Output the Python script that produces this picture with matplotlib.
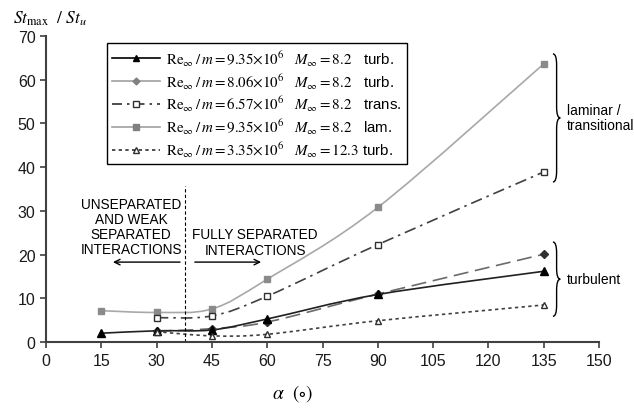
import numpy as np
import matplotlib
matplotlib.use("Agg")
import matplotlib.pyplot as plt
from matplotlib.path import Path
from matplotlib.patches import PathPatch
from matplotlib.lines import Line2D

plt.rcParams["font.family"] = ["Liberation Sans", "DejaVu Sans"]
plt.rcParams["mathtext.fontset"] = "stix"

# ── Data ──────────────────────────────────────────────────────────────────────

alpha_turb = [15, 30, 45, 60, 90, 135]
st_turb    = [2.05, 2.6, 2.8, 5.3, 10.9, 16.2]      # Re/m=9.35e6, M=8.2, turb.

alpha_turb2 = [30, 45, 60, 90, 135]
st_turb2    = [2.5, 3.1, 4.6, 11.0, 20.1]           # Re/m=8.06e6, M=8.2, turb.

alpha_trans = [30, 45, 60, 90, 135]
st_trans    = [5.6, 6.0, 10.5, 22.3, 38.9]          # Re/m=6.57e6, M=8.2, trans.

alpha_lam = [15, 30, 45, 60, 90, 135]
st_lam    = [7.2, 6.8, 7.6, 14.4, 30.8, 63.6]       # Re/m=9.35e6, M=8.2, lam.

alpha_m12 = [30, 45, 60, 90, 135]
st_m12    = [2.4, 1.45, 1.8, 4.9, 8.5]              # Re/m=3.35e6, M=12.3, turb.

labels = [
    r"$\mathrm{Re}_{\infty}\,/\,m=9.35{\times}10^{6}\quad M_{\infty}=8.2$   turb.",
    r"$\mathrm{Re}_{\infty}\,/\,m=8.06{\times}10^{6}\quad M_{\infty}=8.2$   turb.",
    r"$\mathrm{Re}_{\infty}\,/\,m=6.57{\times}10^{6}\quad M_{\infty}=8.2$   trans.",
    r"$\mathrm{Re}_{\infty}\,/\,m=9.35{\times}10^{6}\quad M_{\infty}=8.2$   lam.",
    r"$\mathrm{Re}_{\infty}\,/\,m=3.35{\times}10^{6}\quad M_{\infty}=12.3$ turb.",
]

# ── Helpers ──────────────────────────────────────────────────────────────────

def smooth_path(ax, xs, ys, **kw):
    # Excel-style smoothed line: cubic Bezier through the points (in pixel space)
    T = ax.transData
    P = T.transform(np.column_stack([xs, ys]))
    n = len(P)
    verts, codes = [P[0]], [Path.MOVETO]
    for i in range(n - 1):
        p0 = P[i - 1] if i > 0 else P[i]
        p1, p2 = P[i], P[i + 1]
        p3 = P[i + 2] if i + 2 < n else P[i + 1]
        c1 = p1 + (p2 - p0) / 6.0
        c2 = p2 - (p3 - p1) / 6.0
        verts += [c1, c2, p2]
        codes += [Path.CURVE4] * 3
    verts = T.inverted().transform(np.array(verts))
    ax.add_patch(PathPatch(Path(verts, codes), fill=False, **kw))


def brace(ax, x0, y_top, y_bot, w=2.0, r=2.5):
    ym = (y_top + y_bot) / 2
    xm = x0 + w / 2
    verts = [(x0, y_top), (xm, y_top), (xm, y_top - r),
             (xm, ym + r), (xm, ym), (x0 + w, ym),
             (xm, ym), (xm, ym - r),
             (xm, y_bot + r), (xm, y_bot), (x0, y_bot)]
    codes = [Path.MOVETO, Path.CURVE3, Path.CURVE3,
             Path.LINETO, Path.CURVE3, Path.CURVE3,
             Path.CURVE3, Path.CURVE3,
             Path.LINETO, Path.CURVE3, Path.CURVE3]
    ax.add_patch(PathPatch(Path(verts, codes), fill=False, lw=1.0,
                           color="black", clip_on=False))

# ── Figure ───────────────────────────────────────────────────────────────────

fig = plt.figure(figsize=(6.34, 4.10), dpi=100)
ax = fig.add_axes([0.0726, 0.163, 0.8722, 0.747])
ax.set_xlim(0, 150)
ax.set_ylim(0, 70)

# lines
smooth_path(ax, alpha_lam, st_lam, color="#a8a8a8", lw=1.2)
smooth_path(ax, alpha_trans, st_trans, color="#404040", lw=1.2, linestyle=(0, (7, 3, 1.5, 3)))
smooth_path(ax, alpha_turb2, st_turb2, color="#6a6a6a", lw=1.2, linestyle=(0, (9, 4)))
smooth_path(ax, alpha_turb, st_turb, color="#202020", lw=1.2)
smooth_path(ax, alpha_m12, st_m12, color="#404040", lw=1.2, linestyle=(0, (2, 2)))

# markers
ax.plot(alpha_lam, st_lam, "s", color="#8a8a8a", ms=5, ls="none")
ax.plot(alpha_trans, st_trans, "s", mfc="white", mec="#303030", mew=1.0, ms=4.5, ls="none")
ax.plot(alpha_turb2, st_turb2, "D", color="#303030", ms=4, ls="none")
ax.plot(alpha_turb, st_turb, "^", color="black", ms=6, ls="none")
ax.plot(alpha_m12, st_m12, "^", mfc="white", mec="#303030", mew=1.0, ms=5, ls="none")

# legend (handles as drawn in the original key)
handles = [
    Line2D([], [], color="black", lw=1.2, marker="^", ms=5),
    Line2D([], [], color="#a0a0a0", lw=1.2, marker="D", ms=3.5, mfc="#808080", mec="#808080"),
    Line2D([], [], color="#303030", lw=1.2, ls=(0, (6, 3, 1.5, 3)), marker="s", ms=4.5,
           mfc="white", mec="#303030"),
    Line2D([], [], color="#a0a0a0", lw=1.2, marker="s", ms=4.5, mfc="#808080", mec="#808080"),
    Line2D([], [], color="#303030", lw=1.2, ls=(0, (2, 2)), marker="^", ms=4.5,
           mfc="white", mec="#303030"),
]
leg = ax.legend(handles, labels, loc="upper left", bbox_to_anchor=(0.11, 0.977),
                borderaxespad=0, fontsize=10.8, handlelength=3.2, handletextpad=0.4,
                labelspacing=0.22, borderpad=0.35, fancybox=False, framealpha=1)
leg.get_frame().set_edgecolor("black")
leg.get_frame().set_linewidth(1.0)

# separation boundary and annotations
ax.plot([37.6, 37.6], [0, 35.7], color="black", lw=0.8, ls=(0, (3, 2)))
ax.text(23.1, 26.4, "UNSEPARATED\nAND WEAK\nSEPARATED\nINTERACTIONS", ha="center",
        va="center", fontsize=9.8, linespacing=1.1)
ax.text(56.7, 22.9, "FULLY SEPARATED\nINTERACTIONS", ha="center", va="center",
        fontsize=9.8, linespacing=1.1)
ax.annotate("", xy=(17.4, 18.3), xytext=(37.1, 18.3),
            arrowprops=dict(arrowstyle="->", color="black", lw=1.0))
ax.annotate("", xy=(59.1, 18.3), xytext=(39.6, 18.3),
            arrowprops=dict(arrowstyle="->", color="black", lw=1.0))

# braces
brace(ax, 137.5, 65.9, 36.6)
brace(ax, 137.5, 22.9, 5.9)
ax.text(141.2, 51.3, "laminar /\ntransitional", ha="left", va="center", fontsize=10,
        linespacing=1.1, clip_on=False)
ax.text(141.2, 14.4, "turbulent", ha="left", va="center", fontsize=10, clip_on=False)

# axes styling
for s in ["top", "right"]:
    ax.spines[s].set_visible(False)
for s in ["left", "bottom"]:
    ax.spines[s].set_color("#404040")
    ax.spines[s].set_linewidth(1.5)
ax.set_xticks(np.arange(0, 151, 15))
ax.set_yticks(np.arange(0, 71, 10))
ax.tick_params(colors="#404040", labelcolor="#1a1a1a", labelsize=11.5, length=4, width=1.2)

fig.text(0.462, 0.04, r"$\alpha\ \ (\circ)$", ha="center", va="center", fontsize=14)
fig.text(0.02, 0.955, r"$St_{\mathrm{max}}\ \ /\ St_{u}$", ha="left", va="center",
         fontsize=12.5)

fig.savefig("out.png", dpi=100)
